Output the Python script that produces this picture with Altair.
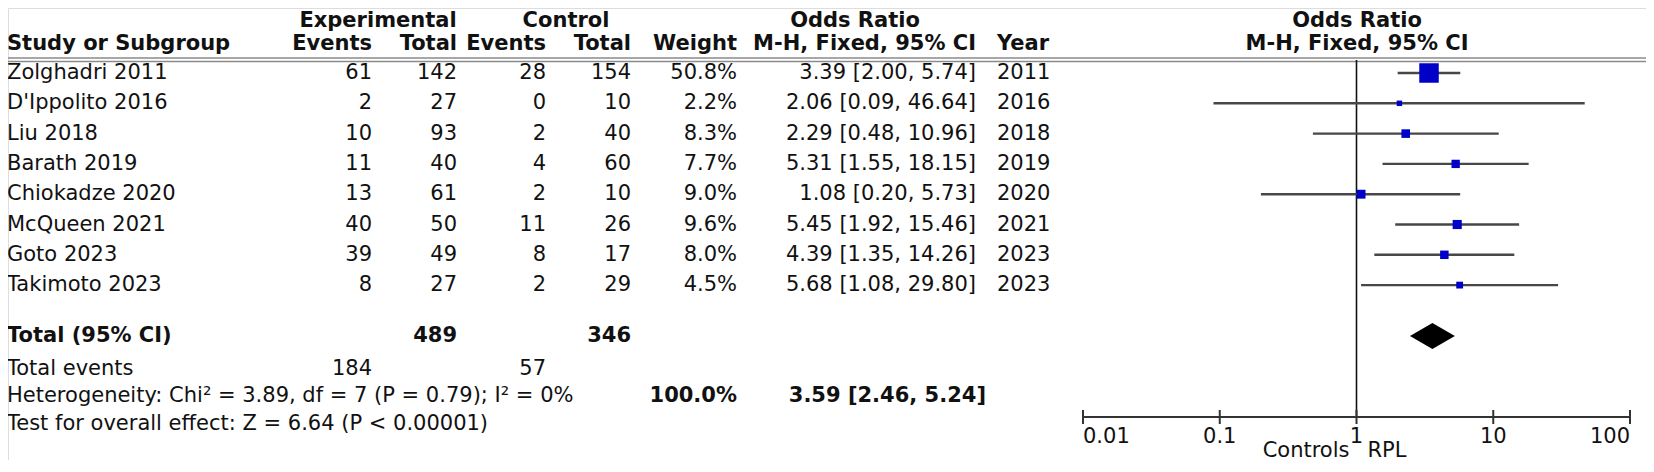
import altair as alt
import pandas as pd

# ---------------- data ----------------
studies = ["Zolghadri 2011", "D'Ippolito 2016", "Liu 2018", "Barath 2019",
           "Chiokadze 2020", "McQueen 2021", "Goto 2023", "Takimoto 2023"]
exp_events = [61, 2, 10, 11, 13, 40, 39, 8]
exp_total = [142, 27, 93, 40, 61, 50, 49, 27]
ctl_events = [28, 0, 2, 4, 2, 11, 8, 2]
ctl_total = [154, 10, 40, 60, 10, 26, 17, 29]
weights = [50.8, 2.2, 8.3, 7.7, 9.0, 9.6, 8.0, 4.5]
odds = [3.39, 2.06, 2.29, 5.31, 1.08, 5.45, 4.39, 5.68]
ci_low = [2.00, 0.09, 0.48, 1.55, 0.20, 1.92, 1.35, 1.08]
ci_high = [5.74, 46.64, 10.96, 18.15, 5.73, 15.46, 14.26, 29.80]
years = [2011, 2016, 2018, 2019, 2020, 2021, 2023, 2023]

total_exp = 489
total_ctl = 346
total_events_exp = 184
total_events_ctl = 57
total_weight = "100.0%"
pooled_or = 3.59
pooled_low = 2.46
pooled_high = 5.24
heterogeneity = "Heterogeneity: Chi\u00b2 = 3.89, df = 7 (P = 0.79); I\u00b2 = 0%"
overall = "Test for overall effect: Z = 6.64 (P < 0.00001)"
axis_ticks = [0.01, 0.1, 1, 10, 100]
axis_labels = ["0.01", "0.1", "1", "10", "100"]
favours_left = "Controls"
favours_right = "RPL"

# ---------------- layout ----------------
W, H = 1638, 452
M = 8
FONT = "DejaVu Sans"
FS = 21
TXT = "#111111"


def px(v):
    return v - M


col_name = px(7)
col_ee = px(372)
col_et = px(457)
col_ce = px(546)
col_ct = px(631)
col_w = px(737)
col_or = px(976)
col_year = px(997)
col_forest_c = px(1357)

hdr1_y = px(20.5)
hdr2_y = px(43.5)
row_y0 = px(73)
row_dy = 30.3
row_ys = [row_y0 + i * row_dy for i in range(len(studies))]
total_y = px(336)
tev_y = px(369)
het_y = px(396)
test_y = px(424)
axis_y = px(417)
ticklab_y = px(437)
fav_y = px(450.5)
line1_y = px(58)
line2_y = px(61.5)

xpix = alt.Scale(domain=[0, W], nice=False, zero=False)
ypix = alt.Scale(domain=[0, H], nice=False, zero=False, reverse=True)
fx = alt.Scale(type="log", domain=[0.01, 100], range=[px(1083), px(1630)], nice=False)


def text_layer(df, align, bold=False, color=TXT, size=FS, dx=0):
    return alt.Chart(df).mark_text(
        align=align, baseline="middle", font=FONT, fontSize=size,
        fontWeight="bold" if bold else "normal", color=color, dx=dx
    ).encode(
        x=alt.X("x:Q", scale=xpix, axis=None),
        y=alt.Y("y:Q", scale=ypix, axis=None),
        text="text:N",
    )


def fmt_ci(o, lo, hi):
    return f"{o:.2f} [{lo:.2f}, {hi:.2f}]"


# text tables
left_reg = pd.DataFrame(
    [{"x": col_name, "y": y, "text": s} for s, y in zip(studies, row_ys)]
    + [{"x": col_year, "y": y, "text": str(yr)} for yr, y in zip(years, row_ys)]
    + [{"x": col_name, "y": tev_y, "text": "Total events"},
       {"x": col_name, "y": het_y, "text": heterogeneity},
       {"x": col_name, "y": test_y, "text": overall}]
)
right_reg = pd.DataFrame(
    [{"x": col_ee, "y": y, "text": str(v)} for v, y in zip(exp_events, row_ys)]
    + [{"x": col_et, "y": y, "text": str(v)} for v, y in zip(exp_total, row_ys)]
    + [{"x": col_ce, "y": y, "text": str(v)} for v, y in zip(ctl_events, row_ys)]
    + [{"x": col_ct, "y": y, "text": str(v)} for v, y in zip(ctl_total, row_ys)]
    + [{"x": col_w, "y": y, "text": f"{v:.1f}%"} for v, y in zip(weights, row_ys)]
    + [{"x": col_or, "y": y, "text": fmt_ci(o, l, h)}
       for o, l, h, y in zip(odds, ci_low, ci_high, row_ys)]
    + [{"x": col_ee, "y": tev_y, "text": str(total_events_exp)},
       {"x": col_ce, "y": tev_y, "text": str(total_events_ctl)}]
)
right_bold = pd.DataFrame([
    {"x": col_ee, "y": hdr2_y, "text": "Events"},
    {"x": col_et, "y": hdr2_y, "text": "Total"},
    {"x": col_ce, "y": hdr2_y, "text": "Events"},
    {"x": col_ct, "y": hdr2_y, "text": "Total"},
    {"x": col_w, "y": hdr2_y, "text": "Weight"},
    {"x": col_or, "y": hdr2_y, "text": "M-H, Fixed, 95% CI"},
    {"x": col_et, "y": total_y, "text": str(total_exp)},
    {"x": col_ct, "y": total_y, "text": str(total_ctl)},
    {"x": col_w, "y": het_y, "text": total_weight},
    {"x": col_or + 10, "y": het_y, "text": fmt_ci(pooled_or, pooled_low, pooled_high)},
])
left_bold = pd.DataFrame([
    {"x": col_name, "y": hdr2_y, "text": "Study or Subgroup"},
    {"x": col_year, "y": hdr2_y, "text": "Year"},
    {"x": col_name, "y": total_y, "text": "Total (95% CI)"},
])
center_bold = pd.DataFrame([
    {"x": px(378), "y": hdr1_y, "text": "Experimental"},
    {"x": px(566), "y": hdr1_y, "text": "Control"},
    {"x": px(855), "y": hdr1_y, "text": "Odds Ratio"},
    {"x": col_forest_c, "y": hdr1_y, "text": "Odds Ratio"},
    {"x": col_forest_c, "y": hdr2_y, "text": "M-H, Fixed, 95% CI"},
])

# header double rule
hrules = pd.DataFrame({"x": [0, 0], "x2": [W, W], "y": [line1_y, line2_y]})
hrule_layer = alt.Chart(hrules).mark_rule(color="#8a8a8a", strokeWidth=1.6).encode(
    x=alt.X("x:Q", scale=xpix, axis=None), x2="x2:Q",
    y=alt.Y("y:Q", scale=ypix, axis=None),
)

# forest plot data
rows = pd.DataFrame({"study": studies, "odds": odds, "lo": ci_low, "hi": ci_high,
                     "weight": weights, "y": row_ys})

ci_layer = alt.Chart(rows).mark_rule(color="#474747", strokeWidth=2.4).encode(
    x=alt.X("lo:Q", scale=fx, axis=None), x2="hi:Q",
    y=alt.Y("y:Q", scale=ypix, axis=None),
)
sq_layer = alt.Chart(rows).mark_square(color="#0000c8", opacity=1).encode(
    x=alt.X("odds:Q", scale=fx, axis=None),
    y=alt.Y("y:Q", scale=ypix, axis=None),
    size=alt.Size("weight:Q", scale=alt.Scale(domain=[0, 50.8], range=[14, 380]), legend=None),
)

null_line = pd.DataFrame({"x": [1], "y": [px(60)], "y2": [axis_y]})
null_layer = alt.Chart(null_line).mark_rule(color="#111111", strokeWidth=1.6).encode(
    x=alt.X("x:Q", scale=fx, axis=None),
    y=alt.Y("y:Q", scale=ypix, axis=None), y2="y2:Q",
)

axis_line = pd.DataFrame({"x": [axis_ticks[0]], "x2": [axis_ticks[-1]], "y": [axis_y]})
axis_layer = alt.Chart(axis_line).mark_rule(color="#333333", strokeWidth=2).encode(
    x=alt.X("x:Q", scale=fx, axis=None), x2="x2:Q",
    y=alt.Y("y:Q", scale=ypix, axis=None),
)
ticks = pd.DataFrame({"x": axis_ticks, "label": axis_labels,
                      "y": [axis_y - 7] * 5, "y2": [axis_y + 7] * 5,
                      "ly": [ticklab_y] * 5})
tick_layer = alt.Chart(ticks).mark_rule(color="#333333", strokeWidth=2).encode(
    x=alt.X("x:Q", scale=fx, axis=None),
    y=alt.Y("y:Q", scale=ypix, axis=None), y2="y2:Q",
)


def ticklab(df, align):
    return alt.Chart(df).mark_text(
        font=FONT, fontSize=FS, color=TXT, baseline="middle", align=align
    ).encode(
        x=alt.X("x:Q", scale=fx, axis=None),
        y=alt.Y("ly:Q", scale=ypix, axis=None),
        text="label:N",
    )


ticklab_first = ticklab(ticks.iloc[[0]], "left")
ticklab_mid = ticklab(ticks.iloc[1:-1], "center")
ticklab_last = ticklab(ticks.iloc[[-1]], "right")

fav = pd.DataFrame({"x": [1, 1], "y": [fav_y, fav_y], "text": [favours_left, favours_right],
                    "side": ["l", "r"]})
fav_l = alt.Chart(fav[fav.side == "l"]).mark_text(
    font=FONT, fontSize=FS, color=TXT, baseline="middle", align="right", dx=-7
).encode(x=alt.X("x:Q", scale=fx, axis=None), y=alt.Y("y:Q", scale=ypix, axis=None), text="text:N")
fav_r = alt.Chart(fav[fav.side == "r"]).mark_text(
    font=FONT, fontSize=FS, color=TXT, baseline="middle", align="left", dx=11
).encode(x=alt.X("x:Q", scale=fx, axis=None), y=alt.Y("y:Q", scale=ypix, axis=None), text="text:N")

half_h = 13
diamond = pd.DataFrame({
    "x": [pooled_low, pooled_or, pooled_high],
    "y": [total_y, total_y - half_h, total_y],
    "y2": [total_y, total_y + half_h, total_y],
})
diamond_layer = alt.Chart(diamond).mark_area(color="#000000", orient="vertical", opacity=1).encode(
    x=alt.X("x:Q", scale=fx, axis=None),
    y=alt.Y("y:Q", scale=ypix, axis=None), y2="y2:Q",
)

chart = alt.layer(
    hrule_layer,
    text_layer(left_reg, "left"),
    text_layer(right_reg, "right"),
    text_layer(right_bold, "right", bold=True),
    text_layer(left_bold, "left", bold=True),
    text_layer(center_bold, "center", bold=True),
    null_layer, ci_layer, sq_layer, diamond_layer,
    axis_layer, tick_layer, ticklab_first, ticklab_mid, ticklab_last, fav_l, fav_r,
).resolve_scale(x="independent").properties(
    width=W, height=H, padding=0, autosize=alt.AutoSizeParams(type="none")
).configure_view(stroke=None).configure(background="white")

chart.save("out.html", embed_options={"renderer": "svg", "actions": False})
